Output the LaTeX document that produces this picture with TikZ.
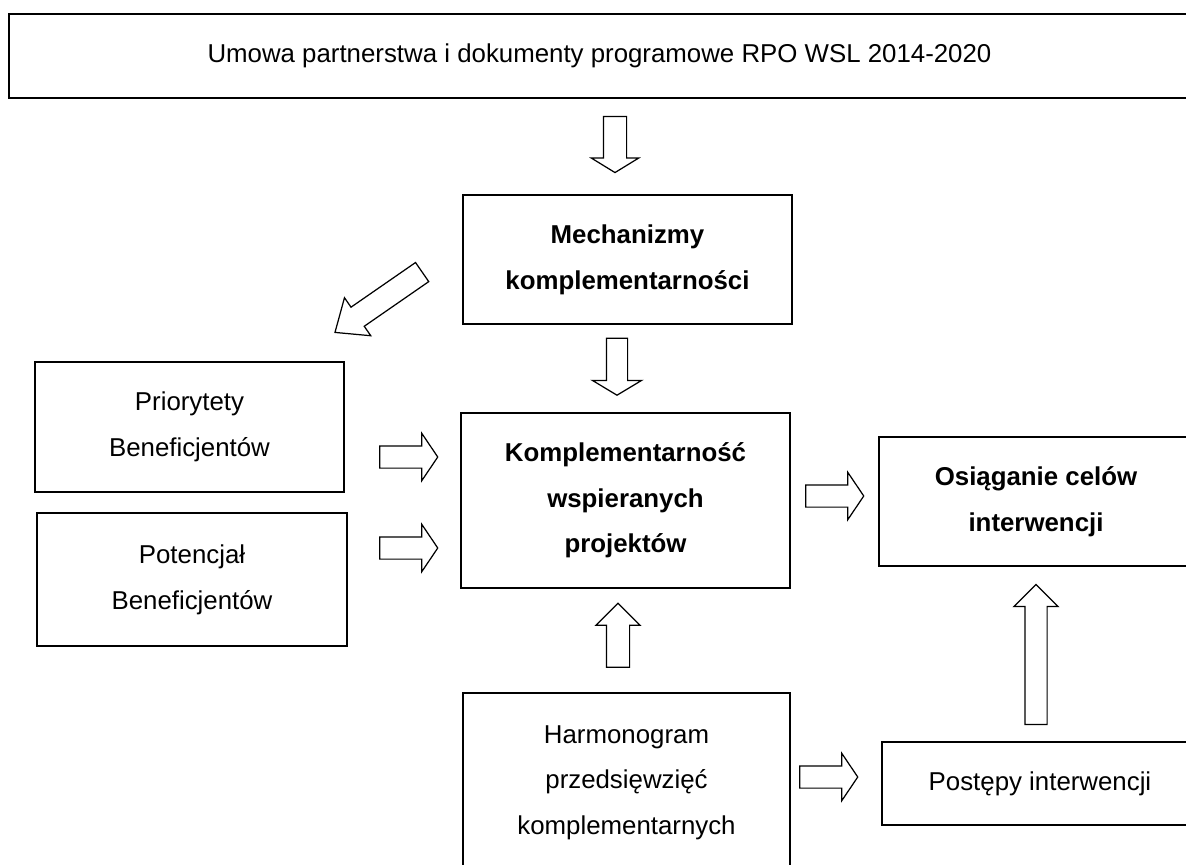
\documentclass[tikz,border=0pt]{standalone}
\usepackage{fontspec}
\setmainfont{Liberation Sans}
\usetikzlibrary{shapes.arrows}

\tikzset{
  ramka/.style={draw, line width=1pt, align=center, inner sep=0pt, font=\fontsize{14.7}{26}\selectfont},
  wazne/.style={font=\fontsize{14.7}{26}\selectfont\bfseries},
  strzalka/.style={single arrow, draw, line width=0.7pt, inner xsep=0pt, inner ysep=0.21cm,
    single arrow head extend=0.25cm, single arrow tip angle=112, minimum height=1.16cm}
}

\begin{document}
\begin{tikzpicture}

	\useasboundingbox (0,0) rectangle (23.72,-17.28);
	\clip (0,0) rectangle (23.72,-17.28);

	% boxes
	\node[ramka, line width=1.2pt, minimum width=23.62cm, minimum height=1.68cm] (umowa) at (11.99,-1.12) {Umowa partnerstwa i dokumenty programowe RPO WSL 2014-2020};
	\node[ramka, wazne, minimum width=6.58cm, minimum height=2.58cm] (mech) at (12.55,-5.19) {Mechanizmy\\komplementarności};
	\node[ramka, minimum width=6.18cm, minimum height=2.60cm] (prio) at (3.79,-8.54) {Priorytety\\Beneficjentów};
	\node[ramka, minimum width=6.20cm, minimum height=2.66cm] (pot) at (3.84,-11.59) {Potencjał\\Beneficjentów};
	\node[ramka, wazne, minimum width=6.58cm, minimum height=3.50cm] (kompl) at (12.51,-10.01) {Komplementarność\\wspieranych\\projektów};
	\node[ramka, wazne, minimum width=6.28cm, minimum height=2.58cm] (osiag) at (20.72,-10.03) {Osiąganie celów\\interwencji};
	\node[ramka, minimum width=6.54cm, minimum height=3.58cm] (harm) at (12.53,-15.65) {Harmonogram\\przedsięwzięć\\komplementarnych};
	\node[ramka, minimum width=6.32cm, minimum height=1.66cm] (post) at (20.80,-15.67) {Postępy interwencji};

	% block arrows
	\node[strzalka, rotate=-90, minimum height=1.12cm, inner ysep=0.22cm, single arrow head extend=0.24cm, single arrow tip angle=117] (s1) at (12.30,-2.82) {};
	\node[strzalka, rotate=-90, minimum height=1.14cm, inner ysep=0.20cm, single arrow head extend=0.28cm, single arrow tip angle=118] (s2) at (12.34,-7.27) {};
	\node[strzalka, rotate=214.7, minimum height=2.12cm, inner ysep=0.22cm, single arrow head extend=0.23cm, single arrow tip angle=80] (s3) at (7.685,-5.966) {};
	\node[strzalka] (s4) at (8.10,-9.14) {};
	\node[strzalka] (s5) at (8.10,-10.96) {};
	\node[strzalka] (s6) at (16.62,-9.92) {};
	\node[strzalka] (s7) at (16.50,-15.54) {};
	\node[strzalka, rotate=90, minimum height=1.28cm, inner ysep=0.22cm, single arrow head extend=0.21cm, single arrow tip angle=90] (s8) at (12.36,-12.82) {};
	\node[strzalka, rotate=90, minimum height=2.80cm, inner ysep=0.21cm, single arrow head extend=0.22cm, single arrow tip angle=90] (s9) at (20.72,-13.20) {};

\end{tikzpicture}
\end{document}
